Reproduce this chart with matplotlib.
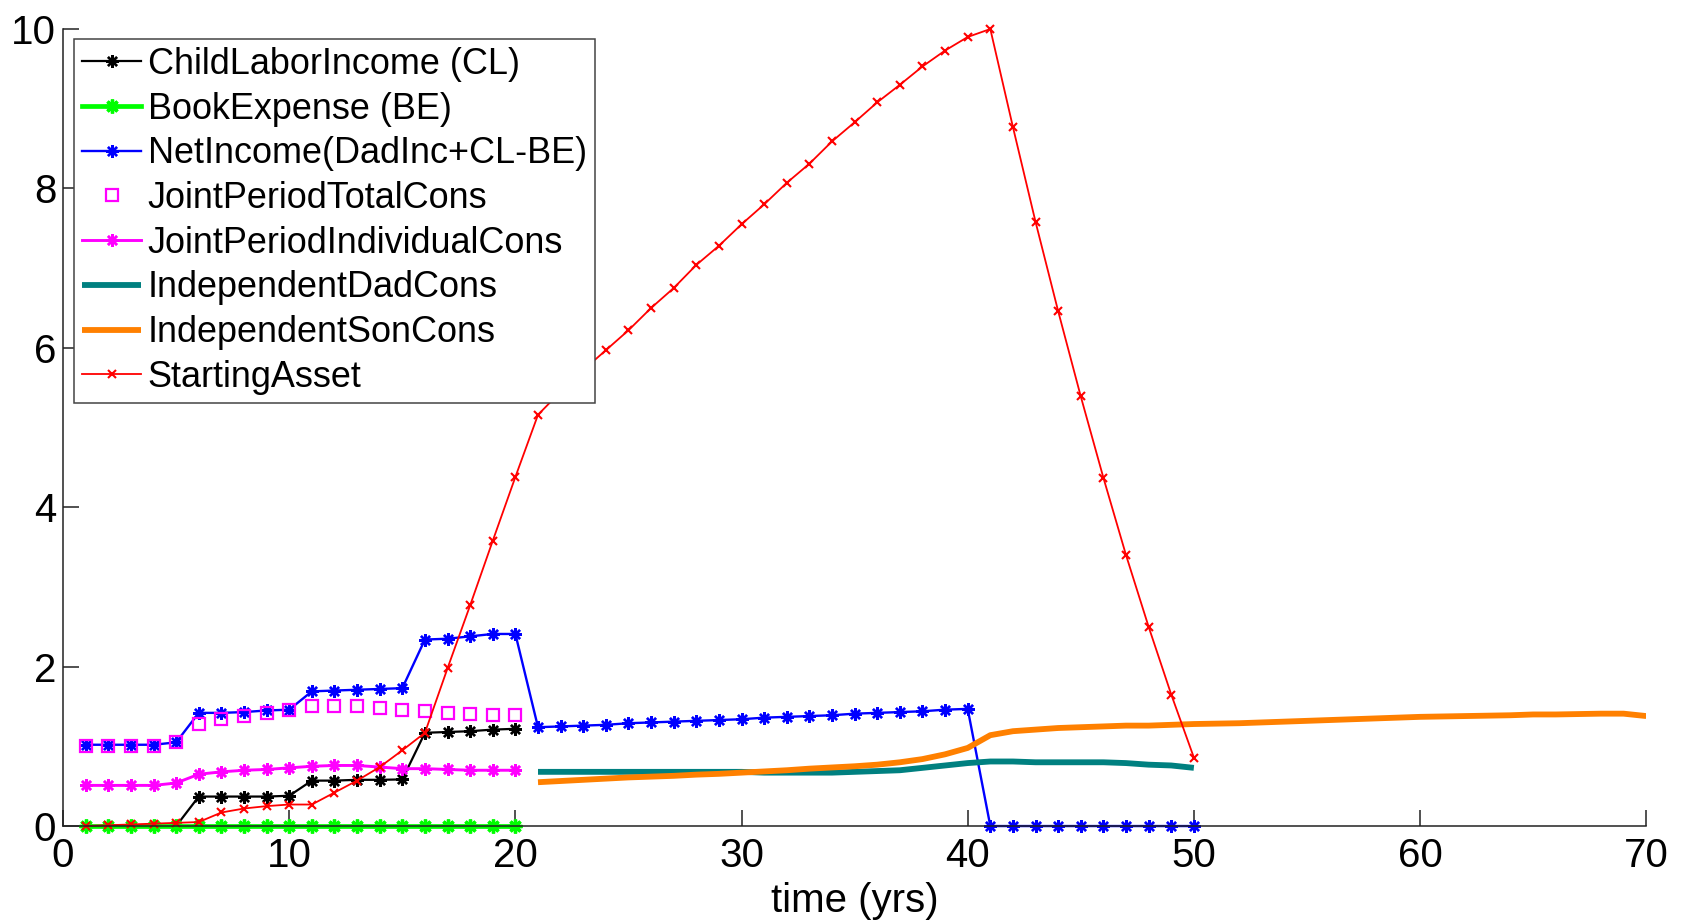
import matplotlib
matplotlib.use("Agg")
import matplotlib.pyplot as plt

plt.rcParams['font.family'] = ['Liberation Sans', 'DejaVu Sans']

# time axes (years)
t_joint = list(range(1, 21))
t_dad = list(range(1, 51))
t_indep = list(range(21, 51))
t_son = list(range(21, 71))

child_labor = [0, 0, 0, 0, 0, 0.37, 0.37, 0.37, 0.37, 0.38,
               0.57, 0.57, 0.58, 0.58, 0.585, 1.17, 1.18, 1.19, 1.21, 1.22]
book_expense = [0, 0, 0, 0, 0, 0, 0, 0, 0, 0,
                0, 0, 0, 0, 0, 0, 0, 0, 0, 0]
net_income = [1.02, 1.02, 1.02, 1.02, 1.05, 1.42, 1.42, 1.43, 1.45, 1.46,
              1.69, 1.70, 1.71, 1.72, 1.73, 2.34, 2.35, 2.38, 2.41, 2.41,
              1.24, 1.25, 1.26, 1.27, 1.29, 1.30, 1.31, 1.32, 1.33, 1.34,
              1.36, 1.37, 1.38, 1.39, 1.41, 1.42, 1.43, 1.44, 1.46, 1.47,
              0, 0, 0, 0, 0, 0, 0, 0, 0, 0]
joint_total = [1.00, 1.00, 1.01, 1.01, 1.05, 1.28, 1.34, 1.38, 1.42, 1.46,
               1.50, 1.50, 1.50, 1.48, 1.46, 1.44, 1.42, 1.40, 1.39, 1.39]
joint_indiv = [0.51, 0.51, 0.51, 0.51, 0.54, 0.65, 0.68, 0.70, 0.71, 0.73,
               0.75, 0.76, 0.76, 0.74, 0.72, 0.72, 0.71, 0.70, 0.70, 0.70]
dad_cons = [0.68, 0.68, 0.68, 0.68, 0.68, 0.68, 0.68, 0.68, 0.68, 0.68,
            0.67, 0.67, 0.67, 0.67, 0.68, 0.69, 0.70, 0.73, 0.76, 0.79,
            0.81, 0.81, 0.80, 0.80, 0.80, 0.80, 0.79, 0.77, 0.76, 0.73]
son_cons = [0.55, 0.565, 0.58, 0.595, 0.61, 0.62, 0.63, 0.645, 0.655, 0.67,
            0.685, 0.70, 0.72, 0.735, 0.75, 0.77, 0.80, 0.84, 0.90, 0.98,
            1.14, 1.19, 1.21, 1.23, 1.24, 1.25, 1.26, 1.26, 1.27, 1.28,
            1.285, 1.29, 1.30, 1.31, 1.32, 1.33, 1.34, 1.35, 1.36, 1.37,
            1.375, 1.38, 1.385, 1.39, 1.40, 1.40, 1.405, 1.41, 1.41, 1.38]
starting_asset = [0, 0.01, 0.02, 0.03, 0.04, 0.05, 0.17, 0.22, 0.25, 0.27,
                  0.27, 0.42, 0.57, 0.74, 0.95, 1.17, 1.98, 2.77, 3.58, 4.38,
                  5.16, 5.45, 5.72, 5.97, 6.22, 6.50, 6.75, 7.04, 7.28, 7.55,
                  7.80, 8.07, 8.31, 8.59, 8.83, 9.08, 9.30, 9.53, 9.73, 9.90,
                  10.0, 8.77, 7.58, 6.46, 5.39, 4.37, 3.40, 2.50, 1.65, 0.86]

star = (8, 2, 0)

fig = plt.figure(figsize=(16.82, 9.21), dpi=100)
ax = fig.add_axes([0.0375, 0.1031, 0.9412, 0.8654])

ax.plot(t_joint, child_labor, '-', color='k', lw=1.6, marker=star, ms=9, mew=1.7,
        clip_on=False, label='ChildLaborIncome (CL)')
ax.plot(t_joint, book_expense, '-', color='#00ff00', lw=3.4, marker=star, ms=10, mew=2.4,
        clip_on=False, label='BookExpense (BE)')
ax.plot(t_dad, net_income, '-', color='#0000ff', lw=1.7, marker=star, ms=9, mew=1.7,
        clip_on=False, label='NetIncome(DadInc+CL-BE)')
ax.plot(t_joint, joint_total, 's', color='#ff00ff', ms=8, mew=1.6, mfc='none',
        clip_on=False, label='JointPeriodTotalCons')
ax.plot(t_joint, joint_indiv, '-', color='#ff00ff', lw=2.1, marker=star, ms=9, mew=1.8,
        clip_on=False, label='JointPeriodIndividualCons')
ax.plot(t_indep, dad_cons, '-', color='#008080', lw=4.2, solid_capstyle='butt',
        label='IndependentDadCons')
ax.plot(t_son, son_cons, '-', color='#ff8000', lw=4.2, solid_capstyle='butt',
        label='IndependentSonCons')
ax.plot(t_dad, starting_asset, '-', color='#ff0000', lw=1.3, marker='x', ms=5.5, mew=1.5,
        clip_on=False, label='StartingAsset')

ax.set_xlim(0, 70)
ax.set_ylim(0, 10)
ax.set_xticks(range(0, 71, 10))
ax.set_yticks(range(0, 11, 2))
ax.spines['top'].set_visible(False)
ax.spines['right'].set_visible(False)
for s in ('left', 'bottom'):
    ax.spines[s].set_linewidth(1.1)
    ax.spines[s].set_color('#222222')
ax.tick_params(direction='in', length=11.5, width=1.1, color='#222222',
               labelsize=29, pad=5)
ax.tick_params(axis='x', pad=8)
ax.set_xlabel('time (yrs)', fontsize=29, labelpad=5)

leg = ax.legend(loc='upper left', bbox_to_anchor=(0.007, 0.9875), borderaxespad=0,
                fontsize=25.9, numpoints=1, handlelength=1.65, handletextpad=0.18,
                labelspacing=0.27, borderpad=0.22, fancybox=False, framealpha=1,
                edgecolor='#444444')
leg.get_frame().set_linewidth(1.1)

fig.savefig('out.png', dpi=100)
